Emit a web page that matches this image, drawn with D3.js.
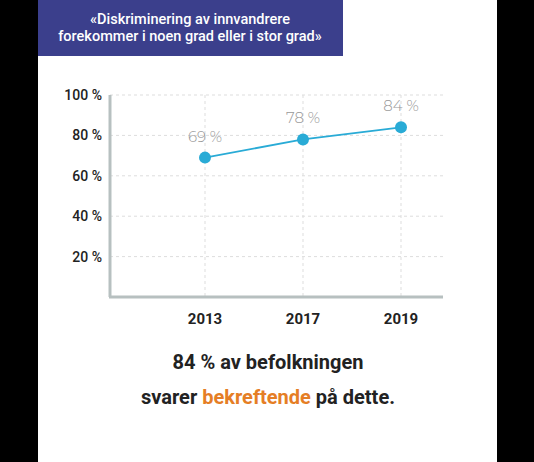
<!DOCTYPE html><html><head><meta charset="utf-8"><script src="https://d3js.org/d3.v7.min.js"></script>
<style>body{margin:0;background:#000}</style></head><body><script>
const years=["2013","2017","2019"];
const values=[69,78,84];
const yTicks=[20,40,60,80,100];
const titleLines=["«Diskriminering av innvandrere","forekommer i noen grad eller i stor grad»"];
const svg=d3.select("body").append("svg").attr("width",534).attr("height",462);
svg.append("rect").attr("x",38).attr("y",0).attr("width",459).attr("height",462).attr("fill","#fff");
svg.append("rect").attr("x",38).attr("y",0).attr("width",305).attr("height",56).attr("fill","#3b3f8c");
svg.selectAll("text.t").data(titleLines).join("text").attr("x",190).attr("y",(d,i)=>24+i*17)
 .attr("text-anchor","middle").attr("fill","#fff").attr("font-family","Roboto").attr("font-weight","500").attr("font-size",14.5).text(d=>d);
const x=d3.scalePoint().domain(years).range([205,401]);
const y=d3.scaleLinear().domain([0,100]).range([297,95]);
const g=svg.append("g");
g.selectAll("line.h").data(yTicks).join("line").attr("x1",110).attr("x2",443).attr("y1",d=>y(d)).attr("y2",d=>y(d)).attr("stroke","#ddd").attr("stroke-dasharray","3,3");
g.selectAll("line.v").data(years).join("line").attr("x1",d=>x(d)).attr("x2",d=>x(d)).attr("y1",95).attr("y2",297).attr("stroke","#ddd").attr("stroke-dasharray","3,3");
g.append("line").attr("x1",110).attr("x2",110).attr("y1",95).attr("y2",297).attr("stroke","#b7c0c0").attr("stroke-width",3);
g.append("line").attr("x1",109).attr("x2",443).attr("y1",297).attr("y2",297).attr("stroke","#b7c0c0").attr("stroke-width",3);
g.selectAll("text.yl").data(yTicks).join("text").attr("x",102).attr("y",d=>y(d)+5).attr("text-anchor","end")
 .attr("font-family","Roboto").attr("font-weight","500").attr("font-size",14).attr("fill","#222").text(d=>d+" %");
g.selectAll("text.xl").data(years).join("text").attr("x",d=>x(d)).attr("y",324).attr("text-anchor","middle")
 .attr("font-family","Roboto").attr("font-weight","bold").attr("font-size",15).attr("fill","#222").text(d=>d);
const pts=years.map((d,i)=>[x(d),y(values[i])]);
g.append("path").attr("d",d3.line()(pts)).attr("fill","none").attr("stroke","#29abd6").attr("stroke-width",1.8);
g.selectAll("circle").data(pts).join("circle").attr("cx",d=>d[0]).attr("cy",d=>d[1]).attr("r",6).attr("fill","#29abd6");
g.selectAll("text.vl").data(values).join("text").attr("x",(d,i)=>x(years[i])).attr("y",d=>y(d)-16).attr("text-anchor","middle")
 .attr("font-family","Montserrat, Lato").attr("font-weight","300").attr("font-size",15).attr("fill","#999").text(d=>d+" %");
svg.append("text").attr("x",268).attr("y",369).attr("text-anchor","middle").attr("font-family","Roboto").attr("font-weight","bold").attr("font-size",20).attr("fill","#222").text("84 % av befolkningen");
const t=svg.append("text").attr("x",268).attr("y",404).attr("text-anchor","middle").attr("font-family","Roboto").attr("font-weight","bold").attr("font-size",20).attr("fill","#222");
t.append("tspan").text("svarer ");
t.append("tspan").attr("fill","#e57e25").text("bekreftende");
t.append("tspan").text(" på dette.");
</script></body></html>
